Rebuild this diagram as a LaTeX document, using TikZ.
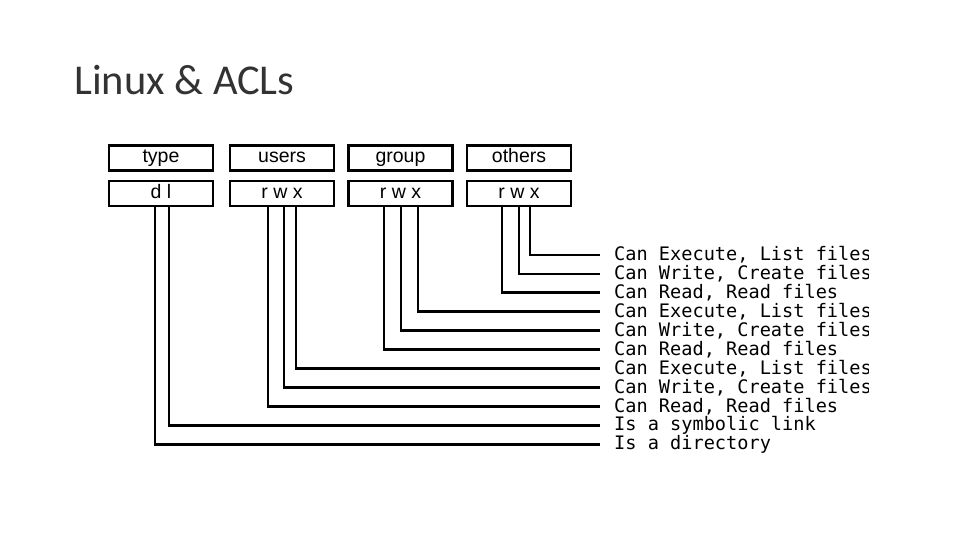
\documentclass[tikz,border=0pt]{standalone}
\usepackage{fontspec}
\setmainfont{Carlito}
\newfontfamily\boxfont{Liberation Sans}
\newfontfamily\monofont{DejaVu Sans Mono}
\begin{document}
\begin{tikzpicture}[x=1pt,y=-1pt,
  field/.style={draw, line width=2.6pt, minimum width=104pt, minimum height=25pt, inner sep=0pt, text height=13pt, text depth=4pt, font=\boxfont\fontsize{19.5}{19.5}\selectfont},
  desc/.style={anchor=west, inner xsep=14pt, inner ysep=0pt, font=\monofont\fontsize{18.6}{19}\selectfont},
  wire/.style={line width=2.2pt}]
\useasboundingbox (0,0) rectangle (960,540);
\node[anchor=west, inner sep=0pt, font=\fontsize{42.5}{42.5}\selectfont, text=black!80] (title) at (74,80) {Linux \& ACLs};
% header row
\node[field] (h1) at (161,158) {type};
\node[field] (h2) at (282,158) {users};
\node[field] (h3) at (400.5,158) {group};
\node[field] (h4) at (519,158) {others};
% bits row
\node[field] (b1) at (161,193.5) {d l};
\node[field] (b2) at (282,193.5) {r w x};
\node[field] (b3) at (400.5,193.5) {r w x};
\node[field] (b4) at (519,193.5) {r w x};
% descriptions
\begin{scope}
\clip (0,0) rectangle (868,540);
\node[desc] (t1) at (600,255) {Can Execute, List files};
\node[desc] (t2) at (600,274) {Can Write, Create files};
\node[desc] (t3) at (600,292.5) {Can Read, Read files};
\node[desc] (t4) at (600,311.5) {Can Execute, List files};
\node[desc] (t5) at (600,330.5) {Can Write, Create files};
\node[desc] (t6) at (600,349.5) {Can Read, Read files};
\node[desc] (t7) at (600,368.5) {Can Execute, List files};
\node[desc] (t8) at (600,387.5) {Can Write, Create files};
\node[desc] (t9) at (600,406.5) {Can Read, Read files};
\node[desc] (t10) at (600,425.5) {Is a symbolic link};
\node[desc] (t11) at (600,444.5) {Is a directory};
\end{scope}
% connectors
\draw[wire] ([xshift=11pt]b4.south) |- (t1.west);
\draw[wire] ([xshift=0pt]b4.south) |- (t2.west);
\draw[wire] ([xshift=-17pt]b4.south) |- (t3.west);
\draw[wire] ([xshift=17.5pt]b3.south) |- (t4.west);
\draw[wire] ([xshift=0.5pt]b3.south) |- (t5.west);
\draw[wire] ([xshift=-16.5pt]b3.south) |- (t6.west);
\draw[wire] ([xshift=14pt]b2.south) |- (t7.west);
\draw[wire] ([xshift=2pt]b2.south) |- (t8.west);
\draw[wire] ([xshift=-14pt]b2.south) |- (t9.west);
\draw[wire] ([xshift=8pt]b1.south) |- (t10.west);
\draw[wire] ([xshift=-6pt]b1.south) |- (t11.west);
\end{tikzpicture}
\end{document}
